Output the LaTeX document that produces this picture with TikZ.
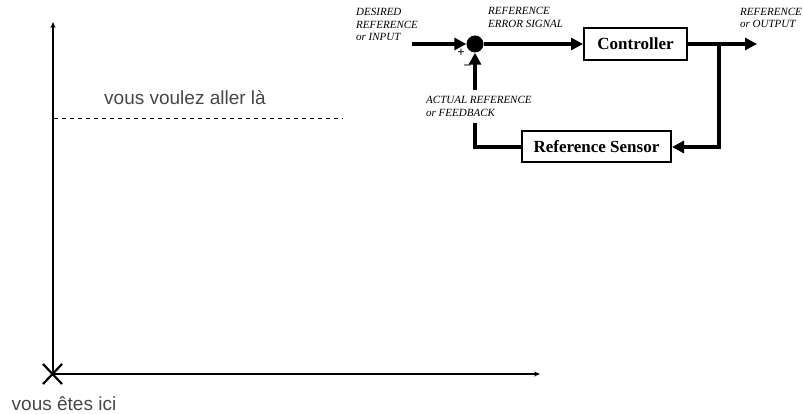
\documentclass[tikz,border=0pt]{standalone}
\usepackage{fontspec}
\setmainfont{Liberation Serif}
\setsansfont{Liberation Sans}
\usetikzlibrary{arrows.meta}

\begin{document}
\begin{tikzpicture}[x=1pt,y=-1pt,
  blk/.style={shape=rectangle,draw=black,line width=2pt,inner sep=0pt,font=\fontsize{17}{20}\selectfont\bfseries},
  lbl/.style={anchor=north west,align=left,inner sep=0pt,font=\fontsize{11}{12.3}\selectfont\itshape},
  sgn/.style={inner sep=0pt,font=\fontsize{13}{13}\selectfont\bfseries},
  sig/.style={draw=black,line width=3.5pt},
  tip/.style={-{Triangle[length=12pt,width=12pt]}},
  fr/.style={text=black!72,inner sep=0pt,font=\sffamily\fontsize{19}{22}\selectfont},
  ax/.style={draw=black,line width=1.3pt,-{Stealth[length=6pt,width=5pt]}}]
\useasboundingbox (0,0) rectangle (803,414);

\node[shape=circle,fill=black,minimum size=17pt,inner sep=0pt] (0) at (475,44) {};
\node[blk,minimum width=103pt,minimum height=32pt] (1) at (635.5,44) {Controller};
\node[blk,minimum width=149pt,minimum height=31pt] (2) at (596.5,147) {Reference Sensor};
\coordinate (3) at (412,44);
\coordinate (4) at (719,44);
\coordinate (5) at (757,44);
\coordinate (6) at (475,123);
\coordinate (7) at (475,90);

\path [sig,tip] (3) -- (0);
\path [sig,tip] (0) -- (1);
\path [sig,tip] (1) -- (5);
\path [sig,tip] (4) |- (2);
\path [sig] (2) -| (6);
\path [sig,tip] (7) -- (0);

\node[lbl] (8) at (356,8.5) {DESIRED\\REFERENCE\\or INPUT};
\node[lbl] (9) at (488,7.5) {REFERENCE\\ERROR SIGNAL};
\node[lbl] (10) at (740,8) {REFERENCE\\or OUTPUT};
\node[lbl] (11) at (426,96.3) {ACTUAL REFERENCE\\or FEEDBACK};
\node[sgn] (12) at (461,53) {+};
\node[sgn] (13) at (467.5,67) {--};

\coordinate (14) at (53,374);
\coordinate (15) at (53,22);
\coordinate (16) at (540,374);
\path [ax] (14) -- (15);
\path [ax] (14) -- (16);
\draw[line width=2.2pt] (43,364) -- (62,384) (43,384) -- (62,364);
\draw[line width=1pt,dash pattern=on 4pt off 4pt] (54,119) -- (343,119);

\node[fr,anchor=west] (17) at (104,98) {vous voulez aller là};
\node[fr] (18) at (64,404) {vous êtes ici};
\end{tikzpicture}
\end{document}
